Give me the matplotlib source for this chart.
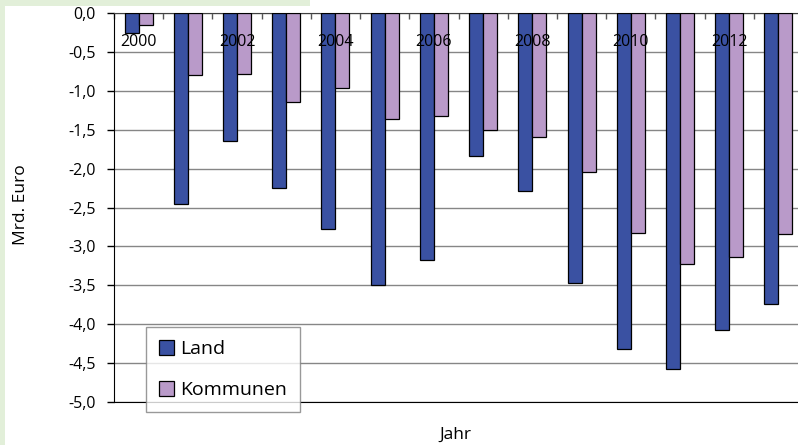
import numpy as np
import matplotlib.pyplot as plt
from matplotlib.patches import Rectangle

plt.rcParams['font.family'] = ['Open Sans', 'DejaVu Sans']

# Finanzierungssalden in Mrd. Euro
jahre = [2000, 2001, 2002, 2003, 2004, 2005, 2006,
         2007, 2008, 2009, 2010, 2011, 2012, 2013]
land = [-0.26, -2.46, -1.64, -2.25, -2.78, -3.50, -3.17,
        -1.84, -2.29, -3.47, -4.32, -4.57, -4.07, -3.74]
kommunen = [-0.15, -0.80, -0.79, -1.15, -0.97, -1.36, -1.32,
            -1.50, -1.59, -2.04, -2.83, -3.23, -3.13, -2.84]
y_ticks = [0.0, -0.5, -1.0, -1.5, -2.0, -2.5, -3.0,
           -3.5, -4.0, -4.5, -5.0]

c_land = '#3a51a2'
c_komm = '#b99ac9'

fig = plt.figure(figsize=(7.98, 4.45), dpi=100)

# hellgruener Rahmen links und oben
fig.patches.append(Rectangle((0, 0), 5 / 798, 1, transform=fig.transFigure,
                             facecolor='#e2efd9', edgecolor='none', zorder=0))
fig.patches.append(Rectangle((0, 1 - 6 / 445), 310 / 798, 6 / 445,
                             transform=fig.transFigure,
                             facecolor='#e2efd9', edgecolor='none', zorder=0))

ax = fig.add_axes([114 / 798, 1 - 402 / 445, 689 / 798, 389 / 445])

x = np.arange(len(jahre))
w = 0.285
ax.bar(x - w / 2, land, w, color=c_land, edgecolor='black', linewidth=0.9,
       label='Land', zorder=3)
ax.bar(x + w / 2, kommunen, w, color=c_komm, edgecolor='black', linewidth=0.9,
       label='Kommunen', zorder=3)

ax.set_xlim(-0.5, len(jahre) - 0.5)
ax.set_ylim(-5.0, 0.0)

ax.set_yticks(y_ticks)
ax.set_yticklabels([f'{v:.1f}'.replace('.', ',') for v in y_ticks],
                   fontsize=11.5)
ax.tick_params(axis='y', direction='out', length=5, width=1, pad=8,
               colors='black')
ax.yaxis.grid(True, color='#868686', linewidth=1, zorder=0)

# Achse bei 0 oben mit Strichen an den Kategoriegrenzen
ax.xaxis.tick_top()
ax.set_xticks(np.arange(-0.5, len(jahre), 1))
ax.set_xticklabels([])
ax.tick_params(axis='x', direction='in', length=4, width=1, color='#555555')

for i, j in enumerate(jahre):
    if j % 2 == 0:
        ax.text(i, -0.375, str(j), ha='center', va='center', fontsize=11.5,
                zorder=4)

ax.spines['right'].set_visible(False)
ax.spines['top'].set_color('#404040')
ax.spines['left'].set_color('black')
ax.spines['bottom'].set_color('black')

fig.text(21 / 798, 1 - 205 / 445, 'Mrd. Euro', rotation=90, ha='center',
         va='center', fontsize=12.5)
fig.text(455 / 798, 1 - 435 / 445, 'Jahr', ha='center', va='center',
         fontsize=12.5)

leg = ax.legend(loc='lower left', bbox_to_anchor=(146 / 798, 1 - 412 / 445),
                bbox_transform=fig.transFigure, fontsize=14, frameon=True,
                fancybox=False, handlelength=0.8, handleheight=0.8,
                handletextpad=0.3, labelspacing=1.2, borderpad=0.65,
                borderaxespad=0)
leg.get_frame().set_edgecolor('#808080')
leg.get_frame().set_linewidth(1)
leg.set_zorder(5)

fig.savefig('out.png', dpi=100)
